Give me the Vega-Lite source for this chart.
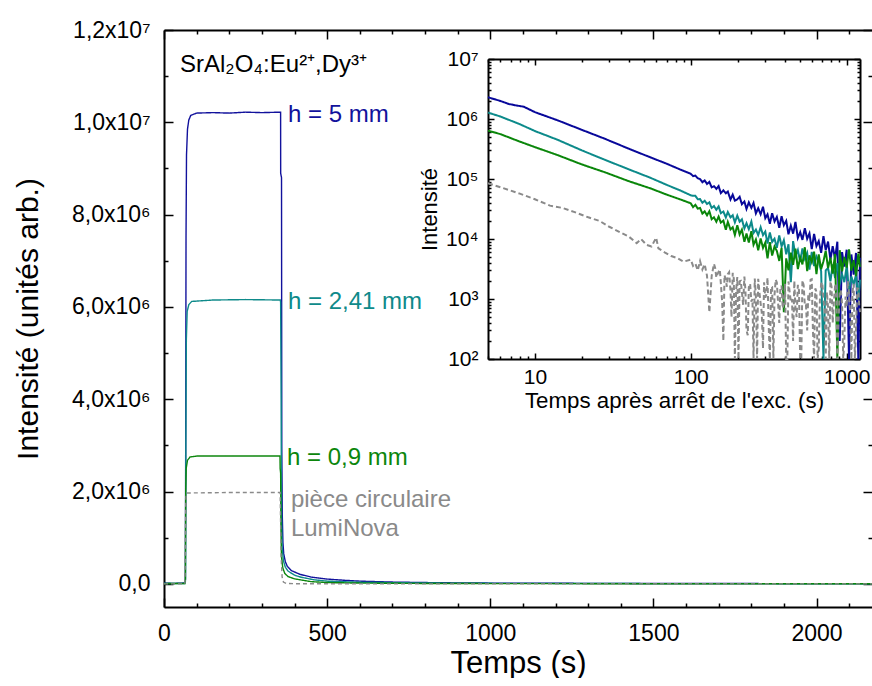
{
  "$schema": "https://vega.github.io/schema/vega-lite/v6.json",
  "padding": {"left": 13, "top": 19, "right": 0, "bottom": 0},
  "config": {
    "view": {"stroke": null},
    "font": "Liberation Sans",
    "axis": {"grid": false, "domainColor": "#000", "tickColor": "#000", "labelColor": "#000", "titleColor": "#000", "labelFont": "Liberation Sans", "titleFont": "Liberation Sans", "titleFontWeight": "normal", "domainWidth": 2, "tickWidth": 1.5, "labelFlush": false, "labelOverlap": false}
  },
  "datasets": {
    "main": [
      {"s":"a5","t":0,"v":20000},{"s":"a5","t":30,"v":10000},{"s":"a5","t":62,"v":20000},{"s":"a5","t":65.5,"v":50000},{"s":"a5","t":66.5,"v":3000000},{"s":"a5","t":67.5,"v":7500000},{"s":"a5","t":69,"v":9300000},{"s":"a5","t":72,"v":9850000},{"s":"a5","t":76,"v":10050000},{"s":"a5","t":82,"v":10150000},{"s":"a5","t":100,"v":10200000},{"s":"a5","t":150,"v":10210000},{"s":"a5","t":200,"v":10200000},{"s":"a5","t":250,"v":10220000},{"s":"a5","t":300,"v":10210000},{"s":"a5","t":357.4,"v":10220000},{"s":"a5","t":357.6,"v":8900000},{"s":"a5","t":360.2,"v":8800000},{"s":"a5","t":361,"v":3000000},{"s":"a5","t":362.5,"v":1500000},{"s":"a5","t":364.5,"v":900000},{"s":"a5","t":367,"v":650000},{"s":"a5","t":372,"v":480000},{"s":"a5","t":378,"v":380000},{"s":"a5","t":390,"v":290000},{"s":"a5","t":416,"v":210000},{"s":"a5","t":450,"v":150000},{"s":"a5","t":500,"v":105000},{"s":"a5","t":550,"v":80000},{"s":"a5","t":600,"v":60000},{"s":"a5","t":700,"v":40000},{"s":"a5","t":850,"v":25000},{"s":"a5","t":1000,"v":18000},{"s":"a5","t":1300,"v":12000},{"s":"a5","t":1700,"v":8000},{"s":"a5","t":2170,"v":6000},
      {"s":"b241","t":0,"v":10000},{"s":"b241","t":64,"v":10000},{"s":"b241","t":66,"v":100000},{"s":"b241","t":67,"v":3000000},{"s":"b241","t":68.5,"v":5300000},{"s":"b241","t":71,"v":5900000},{"s":"b241","t":76,"v":6050000},{"s":"b241","t":85,"v":6120000},{"s":"b241","t":150,"v":6150000},{"s":"b241","t":250,"v":6160000},{"s":"b241","t":356.5,"v":6150000},{"s":"b241","t":357.5,"v":6100000},{"s":"b241","t":359,"v":4000000},{"s":"b241","t":360,"v":1500000},{"s":"b241","t":362,"v":800000},{"s":"b241","t":366,"v":500000},{"s":"b241","t":372,"v":360000},{"s":"b241","t":380,"v":280000},{"s":"b241","t":400,"v":190000},{"s":"b241","t":420,"v":145000},{"s":"b241","t":460,"v":90000},{"s":"b241","t":500,"v":60000},{"s":"b241","t":600,"v":35000},{"s":"b241","t":800,"v":20000},{"s":"b241","t":1000,"v":13000},{"s":"b241","t":1500,"v":7000},{"s":"b241","t":2170,"v":4000},
      {"s":"c09","t":0,"v":10000},{"s":"c09","t":64,"v":10000},{"s":"c09","t":65.5,"v":100000},{"s":"c09","t":66.5,"v":2000000},{"s":"c09","t":68,"v":2500000},{"s":"c09","t":72,"v":2680000},{"s":"c09","t":80,"v":2750000},{"s":"c09","t":100,"v":2770000},{"s":"c09","t":200,"v":2770000},{"s":"c09","t":355.5,"v":2770000},{"s":"c09","t":356,"v":2500000},{"s":"c09","t":357.5,"v":2400000},{"s":"c09","t":358.5,"v":1200000},{"s":"c09","t":360,"v":600000},{"s":"c09","t":364,"v":350000},{"s":"c09","t":370,"v":230000},{"s":"c09","t":380,"v":160000},{"s":"c09","t":400,"v":110000},{"s":"c09","t":450,"v":50000},{"s":"c09","t":500,"v":30000},{"s":"c09","t":600,"v":18000},{"s":"c09","t":800,"v":10000},{"s":"c09","t":1000,"v":7000},{"s":"c09","t":1500,"v":4000},{"s":"c09","t":2170,"v":3000},
      {"s":"dlumi","t":0,"v":0},{"s":"dlumi","t":64,"v":0},{"s":"dlumi","t":65,"v":500000},{"s":"dlumi","t":66.5,"v":1600000},{"s":"dlumi","t":68,"v":1950000},{"s":"dlumi","t":70,"v":1970000},{"s":"dlumi","t":200,"v":1980000},{"s":"dlumi","t":356,"v":1980000},{"s":"dlumi","t":357,"v":1500000},{"s":"dlumi","t":359,"v":600000},{"s":"dlumi","t":362,"v":150000},{"s":"dlumi","t":366,"v":40000},{"s":"dlumi","t":375,"v":10000},{"s":"dlumi","t":400,"v":5000},{"s":"dlumi","t":600,"v":2000},{"s":"dlumi","t":2170,"v":1000}
    ],
    "labels": [
      {"s":"a5","t":380,"v":10160000,"label":"h = 5 mm"},
      {"s":"b241","t":380,"v":6107000,"label":"h = 2,41 mm"},
      {"s":"c09","t":377,"v":2728000,"label":"h = 0,9 mm"},
      {"s":"dlumi","t":389,"v":1818000,"label":"pièce circulaire"},
      {"s":"dlumi","t":389,"v":1190000,"label":"LumiNova"}
    ],
    "formula": [
      {"t":49,"v":11240000,"label":"SrAl₂O₄:Eu²⁺,Dy³⁺"}
    ],
    "inset": [
      {"s":"a5","t":5,"v":2300000},{"s":"a5","t":6,"v":2000000},{"s":"a5","t":6.8,"v":1780000},{"s":"a5","t":7.6,"v":1680000},{"s":"a5","t":8.5,"v":1600000},{"s":"a5","t":10,"v":1300000},{"s":"a5","t":14,"v":950000},{"s":"a5","t":20,"v":660000},{"s":"a5","t":28,"v":470000},{"s":"a5","t":40,"v":320000},{"s":"a5","t":55,"v":230000},{"s":"a5","t":70,"v":180000},{"s":"a5","t":85,"v":145000},
      {"s":"a5","t":100,"v":122000},{"s":"a5","t":103.5,"v":112000},{"s":"a5","t":107.1,"v":114000},{"s":"a5","t":110.9,"v":103000},{"s":"a5","t":114.8,"v":99800},{"s":"a5","t":118.8,"v":88300},{"s":"a5","t":122.9,"v":94800},{"s":"a5","t":127.2,"v":82800},{"s":"a5","t":131.7,"v":89300},{"s":"a5","t":136.3,"v":72600},{"s":"a5","t":141,"v":75900},{"s":"a5","t":146,"v":68400},{"s":"a5","t":151,"v":76200},{"s":"a5","t":156,"v":58100},{"s":"a5","t":162,"v":64600},{"s":"a5","t":168,"v":57700},{"s":"a5","t":173,"v":61800},{"s":"a5","t":180,"v":45500},{"s":"a5","t":186,"v":54800},{"s":"a5","t":192,"v":43600},{"s":"a5","t":199,"v":45900},{"s":"a5","t":206,"v":50500},{"s":"a5","t":213,"v":38000},{"s":"a5","t":221,"v":42100},{"s":"a5","t":228,"v":31700},{"s":"a5","t":236,"v":40800},{"s":"a5","t":245,"v":33000},{"s":"a5","t":253,"v":39900},{"s":"a5","t":262,"v":26700},{"s":"a5","t":271,"v":32600},{"s":"a5","t":281,"v":25800},{"s":"a5","t":291,"v":34400},{"s":"a5","t":301,"v":22200},{"s":"a5","t":311,"v":25800},{"s":"a5","t":322,"v":18000},{"s":"a5","t":333,"v":26900},{"s":"a5","t":345,"v":19600},{"s":"a5","t":357,"v":23300},{"s":"a5","t":370,"v":15400},{"s":"a5","t":383,"v":23900},{"s":"a5","t":396,"v":17000},{"s":"a5","t":410,"v":20100},{"s":"a5","t":424,"v":12000},{"s":"a5","t":439,"v":16700},{"s":"a5","t":454,"v":12300},{"s":"a5","t":470,"v":19200},{"s":"a5","t":487,"v":10400},{"s":"a5","t":504,"v":13000},{"s":"a5","t":521,"v":9680},{"s":"a5","t":540,"v":15100},{"s":"a5","t":559,"v":10100},{"s":"a5","t":578,"v":12400},{"s":"a5","t":598,"v":6770},{"s":"a5","t":619,"v":12200},{"s":"a5","t":641,"v":7650},{"s":"a5","t":663,"v":9220},{"s":"a5","t":687,"v":5900},{"s":"a5","t":711,"v":11200},{"s":"a5","t":735,"v":6520},{"s":"a5","t":761,"v":9040},{"s":"a5","t":788,"v":4570},{"s":"a5","t":815,"v":7590},{"s":"a5","t":844,"v":4680},{"s":"a5","t":873,"v":9030},{"s":"a5","t":904,"v":200},{"s":"a5","t":936,"v":6040},{"s":"a5","t":968,"v":3470},{"s":"a5","t":1002,"v":6640},{"s":"a5","t":1037,"v":100},{"s":"a5","t":1074,"v":5530},{"s":"a5","t":1111,"v":2540},{"s":"a5","t":1150,"v":5860},{"s":"a5","t":1190,"v":50},{"s":"a5","t":1220,"v":4880},
      {"s":"b241","t":5,"v":1280000},{"s":"b241","t":6,"v":1100000},{"s":"b241","t":8,"v":820000},{"s":"b241","t":10,"v":630000},{"s":"b241","t":14,"v":450000},{"s":"b241","t":20,"v":300000},{"s":"b241","t":28,"v":210000},{"s":"b241","t":40,"v":145000},{"s":"b241","t":55,"v":105000},{"s":"b241","t":70,"v":80000},{"s":"b241","t":85,"v":65000},
      {"s":"b241","t":100,"v":53500},{"s":"b241","t":103.5,"v":52400},{"s":"b241","t":107.1,"v":52400},{"s":"b241","t":110.9,"v":46000},{"s":"b241","t":114.8,"v":46300},{"s":"b241","t":118.8,"v":40200},{"s":"b241","t":122.9,"v":43300},{"s":"b241","t":127.2,"v":38400},{"s":"b241","t":131.7,"v":40800},{"s":"b241","t":136.3,"v":32900},{"s":"b241","t":141,"v":35400},{"s":"b241","t":146,"v":30700},{"s":"b241","t":151,"v":34900},{"s":"b241","t":156,"v":27000},{"s":"b241","t":162,"v":28700},{"s":"b241","t":168,"v":22900},{"s":"b241","t":173,"v":28200},{"s":"b241","t":180,"v":22900},{"s":"b241","t":186,"v":24900},{"s":"b241","t":192,"v":18900},{"s":"b241","t":199,"v":24500},{"s":"b241","t":206,"v":19400},{"s":"b241","t":213,"v":21300},{"s":"b241","t":221,"v":15000},{"s":"b241","t":228,"v":18300},{"s":"b241","t":236,"v":14600},{"s":"b241","t":245,"v":19500},{"s":"b241","t":253,"v":12600},{"s":"b241","t":262,"v":14400},{"s":"b241","t":271,"v":11600},{"s":"b241","t":281,"v":15700},{"s":"b241","t":291,"v":11600},{"s":"b241","t":301,"v":13300},{"s":"b241","t":311,"v":8410},{"s":"b241","t":322,"v":12800},{"s":"b241","t":333,"v":8950},{"s":"b241","t":345,"v":10100},{"s":"b241","t":357,"v":7150},{"s":"b241","t":370,"v":11500},{"s":"b241","t":383,"v":7520},{"s":"b241","t":396,"v":9550},{"s":"b241","t":410,"v":5570},{"s":"b241","t":424,"v":8170},{"s":"b241","t":439,"v":1900},{"s":"b241","t":454,"v":9200},{"s":"b241","t":470,"v":5170},{"s":"b241","t":487,"v":6550},{"s":"b241","t":504,"v":4160},{"s":"b241","t":521,"v":6950},{"s":"b241","t":540,"v":4710},{"s":"b241","t":559,"v":5890},{"s":"b241","t":578,"v":3100},{"s":"b241","t":598,"v":6080},{"s":"b241","t":619,"v":3550},{"s":"b241","t":641,"v":5130},{"s":"b241","t":663,"v":4320},{"s":"b241","t":687,"v":2910},{"s":"b241","t":711,"v":60},{"s":"b241","t":735,"v":3000},{"s":"b241","t":761,"v":3270},{"s":"b241","t":788,"v":1970},{"s":"b241","t":815,"v":3760},{"s":"b241","t":844,"v":2240},{"s":"b241","t":873,"v":3970},{"s":"b241","t":904,"v":1750},{"s":"b241","t":936,"v":2580},{"s":"b241","t":968,"v":1910},{"s":"b241","t":1002,"v":3530},{"s":"b241","t":1037,"v":1340},{"s":"b241","t":1074,"v":2370},{"s":"b241","t":1111,"v":1740},{"s":"b241","t":1150,"v":2540},{"s":"b241","t":1190,"v":966},{"s":"b241","t":1220,"v":2090},
      {"s":"c09","t":5,"v":640000},{"s":"c09","t":6,"v":560000},{"s":"c09","t":8,"v":420000},{"s":"c09","t":10,"v":340000},{"s":"c09","t":14,"v":250000},{"s":"c09","t":20,"v":175000},{"s":"c09","t":28,"v":130000},{"s":"c09","t":40,"v":92000},{"s":"c09","t":55,"v":70000},{"s":"c09","t":70,"v":55000},{"s":"c09","t":85,"v":46000},
      {"s":"c09","t":100,"v":39400},{"s":"c09","t":103.5,"v":34000},{"s":"c09","t":107.1,"v":37100},{"s":"c09","t":110.9,"v":32200},{"s":"c09","t":114.8,"v":32900},{"s":"c09","t":118.8,"v":26500},{"s":"c09","t":122.9,"v":28900},{"s":"c09","t":127.2,"v":24800},{"s":"c09","t":131.7,"v":29000},{"s":"c09","t":136.3,"v":21400},{"s":"c09","t":141,"v":23000},{"s":"c09","t":146,"v":19400},{"s":"c09","t":151,"v":23600},{"s":"c09","t":156,"v":18700},{"s":"c09","t":162,"v":20300},{"s":"c09","t":168,"v":14200},{"s":"c09","t":173,"v":19300},{"s":"c09","t":180,"v":14400},{"s":"c09","t":186,"v":15700},{"s":"c09","t":192,"v":11700},{"s":"c09","t":199,"v":16900},{"s":"c09","t":206,"v":11900},{"s":"c09","t":213,"v":14300},{"s":"c09","t":221,"v":8970},{"s":"c09","t":228,"v":12300},{"s":"c09","t":236,"v":8710},{"s":"c09","t":245,"v":13500},{"s":"c09","t":253,"v":8010},{"s":"c09","t":262,"v":9840},{"s":"c09","t":271,"v":6470},{"s":"c09","t":281,"v":10200},{"s":"c09","t":291,"v":7110},{"s":"c09","t":301,"v":8690},{"s":"c09","t":311,"v":4740},{"s":"c09","t":322,"v":8870},{"s":"c09","t":333,"v":5310},{"s":"c09","t":345,"v":7490},{"s":"c09","t":357,"v":6320},{"s":"c09","t":370,"v":4310},{"s":"c09","t":383,"v":7110},{"s":"c09","t":396,"v":600},{"s":"c09","t":410,"v":4750},{"s":"c09","t":424,"v":3000},{"s":"c09","t":439,"v":5940},{"s":"c09","t":454,"v":3710},{"s":"c09","t":470,"v":6900},{"s":"c09","t":487,"v":3150},{"s":"c09","t":504,"v":4900},{"s":"c09","t":521,"v":3780},{"s":"c09","t":540,"v":7290},{"s":"c09","t":559,"v":2920},{"s":"c09","t":578,"v":5330},{"s":"c09","t":598,"v":4120},{"s":"c09","t":619,"v":6150},{"s":"c09","t":641,"v":2590},{"s":"c09","t":663,"v":5520},{"s":"c09","t":687,"v":3150},{"s":"c09","t":711,"v":4250},{"s":"c09","t":735,"v":6340},{"s":"c09","t":761,"v":3270},{"s":"c09","t":788,"v":4890},{"s":"c09","t":815,"v":2650},{"s":"c09","t":844,"v":5640},{"s":"c09","t":873,"v":80},{"s":"c09","t":904,"v":6510},{"s":"c09","t":936,"v":2880},{"s":"c09","t":968,"v":5010},{"s":"c09","t":1002,"v":3330},{"s":"c09","t":1037,"v":6730},{"s":"c09","t":1074,"v":2980},{"s":"c09","t":1111,"v":4460},{"s":"c09","t":1150,"v":2410},{"s":"c09","t":1190,"v":5690},{"s":"c09","t":1220,"v":3420},
      {"s":"dlumi","t":5,"v":85000},{"s":"dlumi","t":6,"v":73000},{"s":"dlumi","t":8,"v":57000},{"s":"dlumi","t":10,"v":46000},{"s":"dlumi","t":12.5,"v":36000},{"s":"dlumi","t":15,"v":33000},{"s":"dlumi","t":18,"v":28000},{"s":"dlumi","t":22,"v":23000},{"s":"dlumi","t":26,"v":20000},{"s":"dlumi","t":30,"v":16000},{"s":"dlumi","t":35,"v":13000},{"s":"dlumi","t":40,"v":11000},{"s":"dlumi","t":45,"v":8500},{"s":"dlumi","t":48,"v":10000},{"s":"dlumi","t":52,"v":8000},{"s":"dlumi","t":56,"v":7500},{"s":"dlumi","t":60,"v":10500},{"s":"dlumi","t":62,"v":7000},{"s":"dlumi","t":68,"v":6000},{"s":"dlumi","t":75,"v":5200},{"s":"dlumi","t":82,"v":4800},{"s":"dlumi","t":90,"v":4200},
      {"s":"dlumi","t":100,"v":4530},{"s":"dlumi","t":103.5,"v":3560},{"s":"dlumi","t":107.1,"v":3880},{"s":"dlumi","t":110.9,"v":3000},{"s":"dlumi","t":114.8,"v":4290},{"s":"dlumi","t":118.8,"v":3110},{"s":"dlumi","t":122.9,"v":3790},{"s":"dlumi","t":127.2,"v":2440},{"s":"dlumi","t":131.7,"v":600},{"s":"dlumi","t":136.3,"v":2430},{"s":"dlumi","t":141,"v":3860},{"s":"dlumi","t":146,"v":2280},{"s":"dlumi","t":151,"v":2850},{"s":"dlumi","t":156,"v":1850},{"s":"dlumi","t":162,"v":200},{"s":"dlumi","t":168,"v":2070},{"s":"dlumi","t":173,"v":2600},{"s":"dlumi","t":180,"v":1360},{"s":"dlumi","t":186,"v":2730},{"s":"dlumi","t":192,"v":50},{"s":"dlumi","t":199,"v":2320},{"s":"dlumi","t":206,"v":1970},{"s":"dlumi","t":213,"v":1310},{"s":"dlumi","t":221,"v":2360},{"s":"dlumi","t":228,"v":300},{"s":"dlumi","t":236,"v":1570},{"s":"dlumi","t":245,"v":902},{"s":"dlumi","t":253,"v":50},{"s":"dlumi","t":262,"v":1080},{"s":"dlumi","t":271,"v":2170},{"s":"dlumi","t":281,"v":841},{"s":"dlumi","t":291,"v":150},{"s":"dlumi","t":301,"v":1050},{"s":"dlumi","t":311,"v":2270},{"s":"dlumi","t":322,"v":50},{"s":"dlumi","t":333,"v":1580},{"s":"dlumi","t":345,"v":1170},{"s":"dlumi","t":357,"v":1880},{"s":"dlumi","t":370,"v":400},{"s":"dlumi","t":383,"v":1660},{"s":"dlumi","t":396,"v":853},{"s":"dlumi","t":410,"v":50},{"s":"dlumi","t":424,"v":1960},{"s":"dlumi","t":439,"v":898},{"s":"dlumi","t":454,"v":200},{"s":"dlumi","t":470,"v":702},{"s":"dlumi","t":487,"v":1720},{"s":"dlumi","t":504,"v":50},{"s":"dlumi","t":521,"v":2040},{"s":"dlumi","t":540,"v":781},{"s":"dlumi","t":559,"v":300},{"s":"dlumi","t":578,"v":929},{"s":"dlumi","t":598,"v":2140},{"s":"dlumi","t":619,"v":50},{"s":"dlumi","t":641,"v":1320},{"s":"dlumi","t":663,"v":150},{"s":"dlumi","t":687,"v":1770},{"s":"dlumi","t":711,"v":968},{"s":"dlumi","t":735,"v":50},{"s":"dlumi","t":761,"v":713},{"s":"dlumi","t":788,"v":1970},{"s":"dlumi","t":815,"v":400},{"s":"dlumi","t":844,"v":1630},{"s":"dlumi","t":873,"v":50},{"s":"dlumi","t":904,"v":1360},{"s":"dlumi","t":936,"v":837},{"s":"dlumi","t":968,"v":200},{"s":"dlumi","t":1002,"v":738},{"s":"dlumi","t":1037,"v":1190},{"s":"dlumi","t":1074,"v":50},{"s":"dlumi","t":1111,"v":1790},{"s":"dlumi","t":1150,"v":300},{"s":"dlumi","t":1190,"v":1490},{"s":"dlumi","t":1220,"v":604},
      {"s":"dlumi","t":143.5,"v":3300},{"s":"dlumi","t":148.5,"v":2600},{"s":"dlumi","t":153.7,"v":3100},{"s":"dlumi","t":159.1,"v":900},{"s":"dlumi","t":164.7,"v":2500},{"s":"dlumi","t":170.5,"v":1600},{"s":"dlumi","t":176.4,"v":2800},{"s":"dlumi","t":182.6,"v":500},{"s":"dlumi","t":189,"v":2200},{"s":"dlumi","t":195.6,"v":1400},{"s":"dlumi","t":202.5,"v":50},{"s":"dlumi","t":209.6,"v":2000},{"s":"dlumi","t":216.9,"v":800},{"s":"dlumi","t":224.5,"v":1400},{"s":"dlumi","t":232.3,"v":250},{"s":"dlumi","t":240.5,"v":1800},{"s":"dlumi","t":248.9,"v":1000},{"s":"dlumi","t":257.6,"v":2200},{"s":"dlumi","t":266.6,"v":50},{"s":"dlumi","t":275.9,"v":1300},{"s":"dlumi","t":285.6,"v":600},{"s":"dlumi","t":295.6,"v":1900},{"s":"dlumi","t":305.9,"v":1200},{"s":"dlumi","t":316.6,"v":350},{"s":"dlumi","t":327.7,"v":1600},{"s":"dlumi","t":339.2,"v":50},{"s":"dlumi","t":351,"v":2100},{"s":"dlumi","t":363.3,"v":900},{"s":"dlumi","t":376,"v":1500},{"s":"dlumi","t":389.2,"v":700},{"s":"dlumi","t":402.8,"v":1800},{"s":"dlumi","t":416.9,"v":50},{"s":"dlumi","t":431.5,"v":1300},{"s":"dlumi","t":446.6,"v":1000},{"s":"dlumi","t":462.2,"v":2000},{"s":"dlumi","t":478.4,"v":500},{"s":"dlumi","t":495.1,"v":1400},{"s":"dlumi","t":512.4,"v":50},{"s":"dlumi","t":530.4,"v":1700},{"s":"dlumi","t":548.9,"v":800},{"s":"dlumi","t":568.1,"v":1200},{"s":"dlumi","t":588,"v":2100},{"s":"dlumi","t":608.6,"v":300},{"s":"dlumi","t":629.9,"v":1500},{"s":"dlumi","t":651.9,"v":50},{"s":"dlumi","t":674.8,"v":1000},{"s":"dlumi","t":698.4,"v":1900},{"s":"dlumi","t":722.8,"v":700},{"s":"dlumi","t":748.1,"v":1300},{"s":"dlumi","t":774.3,"v":50},{"s":"dlumi","t":801.4,"v":1600},{"s":"dlumi","t":829.5,"v":900},{"s":"dlumi","t":858.5,"v":1800},{"s":"dlumi","t":888.6,"v":400},{"s":"dlumi","t":919.7,"v":1400},{"s":"dlumi","t":951.9,"v":50},{"s":"dlumi","t":985.2,"v":1100},{"s":"dlumi","t":1019.6,"v":2000},{"s":"dlumi","t":1055,"v":600},{"s":"dlumi","t":1092,"v":1300},{"s":"dlumi","t":1131,"v":50},{"s":"dlumi","t":1170,"v":1500},{"s":"dlumi","t":1205,"v":800}
    ]
  },
  "width": 708,
  "height": 577,
  "resolve": {"scale": {"x": "independent", "y": "independent", "color": "independent", "strokeDash": "independent"}, "axis": {"x": "independent", "y": "independent"}},
  "layer": [
    {
      "resolve": {"axis": {"x": "independent", "y": "independent"}},
      "layer": [
        {
          "data": {"name": "main"},
          "mark": {"type": "line", "strokeWidth": 1.4, "clip": true},
          "encoding": {
            "x": {"field": "t", "type": "quantitative", "scale": {"domain": [0, 2170], "nice": false, "zero": false},
                  "axis": {"orient": "bottom", "values": [0, 500, 1000, 1500, 2000], "format": "d", "tickSize": -9, "labelFontSize": 23, "labelPadding": 24, "title": "Temps (s)", "titleFontSize": 31, "titlePadding": 3}},
            "y": {"field": "v", "type": "quantitative", "scale": {"domain": [-500000, 12000000], "nice": false, "zero": false},
                  "axis": {"orient": "left", "values": [0, 2000000, 4000000, 6000000, 8000000, 10000000, 12000000], "tickSize": -9, "labelFontSize": 23, "labelPadding": 23,
                           "labelExpr": "datum.value==0?'0,0':datum.value==2000000?'2,0x10⁶':datum.value==4000000?'4,0x10⁶':datum.value==6000000?'6,0x10⁶':datum.value==8000000?'8,0x10⁶':datum.value==10000000?'1,0x10⁷':'1,2x10⁷'",
                           "title": "Intensité (unités arb.)", "titleFontSize": 30, "titlePadding": 28}},
            "color": {"field": "s", "type": "nominal", "scale": {"domain": ["a5", "b241", "c09", "dlumi"], "range": ["#12129c", "#0e8a8a", "#0c860c", "#8a8a8a"]}, "legend": null},
            "strokeDash": {"field": "s", "type": "nominal", "scale": {"domain": ["a5", "b241", "c09", "dlumi"], "range": [[1, 0], [1, 0], [1, 0], [4, 3]]}, "legend": null}
          }
        },
        {
          "data": {"name": "main"},
          "mark": {"type": "point", "opacity": 0},
          "encoding": {
            "x": {"field": "t", "type": "quantitative", "axis": {"orient": "bottom", "values": [100, 200, 300, 400, 600, 700, 800, 900, 1100, 1200, 1300, 1400, 1600, 1700, 1800, 1900, 2100], "tickSize": -4, "labels": false, "domain": false, "title": null}},
            "y": {"field": "v", "type": "quantitative", "axis": {"orient": "left", "values": [1000000, 3000000, 5000000, 7000000, 9000000, 11000000], "tickSize": -4, "labels": false, "domain": false, "title": null}}
          }
        },
        {
          "data": {"name": "main"},
          "mark": {"type": "point", "opacity": 0},
          "encoding": {
            "x": {"field": "t", "type": "quantitative", "axis": {"orient": "top", "values": [0, 500, 1000, 1500, 2000], "tickSize": -9, "labels": false, "title": null}},
            "y": {"field": "v", "type": "quantitative", "axis": {"orient": "right", "values": [0, 2000000, 4000000, 6000000, 8000000, 10000000, 12000000], "tickSize": -9, "labels": false, "domain": false, "title": null}}
          }
        },
        {
          "data": {"name": "main"},
          "mark": {"type": "point", "opacity": 0},
          "encoding": {
            "x": {"field": "t", "type": "quantitative", "axis": {"orient": "top", "values": [100, 200, 300, 400, 600, 700, 800, 900, 1100, 1200, 1300, 1400, 1600, 1700, 1800, 1900, 2100], "tickSize": -4, "labels": false, "domain": false, "title": null}},
            "y": {"field": "v", "type": "quantitative", "axis": {"orient": "right", "values": [1000000, 3000000, 5000000, 7000000, 9000000, 11000000], "tickSize": -4, "labels": false, "domain": false, "title": null}}
          }
        },
        {
          "data": {"name": "labels"},
          "mark": {"type": "text", "align": "left", "baseline": "middle", "fontSize": 24, "font": "Liberation Sans"},
          "encoding": {
            "x": {"field": "t", "type": "quantitative", "scale": {"domain": [0, 2170], "nice": false, "zero": false}, "axis": null},
            "y": {"field": "v", "type": "quantitative", "scale": {"domain": [-500000, 12000000], "nice": false, "zero": false}, "axis": null},
            "text": {"field": "label"},
            "color": {"field": "s", "type": "nominal", "legend": null}
          }
        },
        {
          "data": {"name": "formula"},
          "mark": {"type": "text", "align": "left", "baseline": "middle", "fontSize": 24, "font": "Liberation Sans", "color": "#000"},
          "encoding": {
            "x": {"field": "t", "type": "quantitative", "scale": {"domain": [0, 2170], "nice": false, "zero": false}, "axis": null},
            "y": {"field": "v", "type": "quantitative", "scale": {"domain": [-500000, 12000000], "nice": false, "zero": false}, "axis": null},
            "text": {"field": "label"}
          }
        }
      ]
    },
    {
      "resolve": {"axis": {"x": "independent", "y": "independent"}},
      "layer": [
        {
          "data": {"name": "inset"},
          "mark": {"type": "line", "strokeWidth": 2},
          "encoding": {
            "x": {"field": "t", "type": "quantitative", "scale": {"type": "log", "domain": [5, 1220], "range": [324, 696], "nice": false},
                  "axis": {"orient": "bottom", "offset": -248, "values": [10, 100, 1000], "format": "d", "tickSize": -6, "labelFontSize": 21, "labelPadding": 13, "title": "Temps après arrêt de l'exc. (s)", "titleFontSize": 22.3, "titlePadding": 2}},
            "y": {"field": "v", "type": "quantitative", "scale": {"type": "log", "domain": [100, 10000000], "range": [329, 29], "nice": false, "clamp": true},
                  "axis": {"orient": "left", "offset": -324, "values": [100, 1000, 10000, 100000, 1000000, 10000000], "tickSize": -6, "labelFontSize": 21, "labelPadding": 16,
                           "labelExpr": "datum.value==100?'10²':datum.value==1000?'10³':datum.value==10000?'10⁴':datum.value==100000?'10⁵':datum.value==1000000?'10⁶':'10⁷'",
                           "title": "Intensité", "titleFontSize": 22, "titlePadding": 4}},
            "color": {"field": "s", "type": "nominal", "scale": {"domain": ["a5", "b241", "c09", "dlumi"], "range": ["#08089a", "#0c8a8a", "#0a860a", "#8a8a8a"]}, "legend": null},
            "strokeDash": {"field": "s", "type": "nominal", "scale": {"domain": ["a5", "b241", "c09", "dlumi"], "range": [[1, 0], [1, 0], [1, 0], [5, 3]]}, "legend": null}
          }
        },
        {
          "data": {"name": "inset"},
          "mark": {"type": "point", "opacity": 0},
          "encoding": {
            "x": {"field": "t", "type": "quantitative", "axis": {"orient": "bottom", "offset": -248, "values": [5, 6, 7, 8, 9, 20, 30, 40, 50, 60, 70, 80, 90, 200, 300, 400, 500, 600, 700, 800, 900], "tickSize": -3, "labels": false, "domain": false, "title": null}},
            "y": {"field": "v", "type": "quantitative", "axis": {"orient": "left", "offset": -324, "values": [200, 300, 400, 500, 600, 700, 800, 900, 2000, 3000, 4000, 5000, 6000, 7000, 8000, 9000, 20000, 30000, 40000, 50000, 60000, 70000, 80000, 90000, 200000, 300000, 400000, 500000, 600000, 700000, 800000, 900000, 2000000, 3000000, 4000000, 5000000, 6000000, 7000000, 8000000, 9000000], "tickSize": -3, "labels": false, "domain": false, "title": null}}
          }
        },
        {
          "data": {"name": "inset"},
          "mark": {"type": "point", "opacity": 0},
          "encoding": {
            "x": {"field": "t", "type": "quantitative", "axis": {"orient": "top", "offset": -29, "values": [10, 100, 1000], "tickSize": -6, "labels": false, "title": null}},
            "y": {"field": "v", "type": "quantitative", "axis": {"orient": "right", "offset": -12, "values": [100, 1000, 10000, 100000, 1000000, 10000000], "tickSize": -6, "labels": false, "title": null}}
          }
        },
        {
          "data": {"name": "inset"},
          "mark": {"type": "point", "opacity": 0},
          "encoding": {
            "x": {"field": "t", "type": "quantitative", "axis": {"orient": "top", "offset": -29, "values": [5, 6, 7, 8, 9, 20, 30, 40, 50, 60, 70, 80, 90, 200, 300, 400, 500, 600, 700, 800, 900], "tickSize": -3, "labels": false, "domain": false, "title": null}},
            "y": {"field": "v", "type": "quantitative", "axis": {"orient": "right", "offset": -12, "values": [200, 300, 400, 500, 600, 700, 800, 900, 2000, 3000, 4000, 5000, 6000, 7000, 8000, 9000, 20000, 30000, 40000, 50000, 60000, 70000, 80000, 90000, 200000, 300000, 400000, 500000, 600000, 700000, 800000, 900000, 2000000, 3000000, 4000000, 5000000, 6000000, 7000000, 8000000, 9000000], "tickSize": -3, "labels": false, "domain": false, "title": null}}
          }
        }
      ]
    }
  ]
}
